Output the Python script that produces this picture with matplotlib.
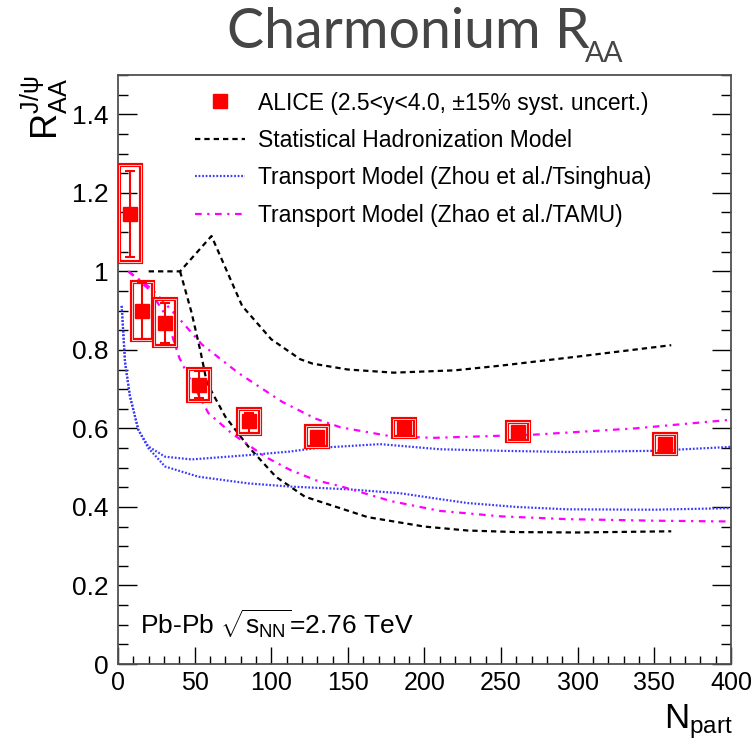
import matplotlib
matplotlib.use("Agg")
import matplotlib.pyplot as plt
from matplotlib.patches import Rectangle
from matplotlib.lines import Line2D

plt.rcParams["font.family"] = ["Liberation Sans", "DejaVu Sans"]
plt.rcParams["mathtext.fontset"] = "custom"
plt.rcParams["mathtext.rm"] = "Liberation Sans"
plt.rcParams["mathtext.it"] = "Liberation Sans"
plt.rcParams["mathtext.bf"] = "Liberation Sans:bold"

# ALICE data points
npart = [7.8, 15.9, 30.7, 52.9, 85.6, 130.0, 186.7, 261.0, 357.0]
raa = [1.147, 0.899, 0.869, 0.711, 0.618, 0.579, 0.601, 0.592, 0.560]
stat_lo = [0.111, 0.072, 0.051, 0.033, 0.029, 0.012, 0.012, 0.012, 0.012]
stat_hi = [0.108, 0.071, 0.050, 0.035, 0.021, 0.012, 0.012, 0.012, 0.012]
syst = [0.124, 0.075, 0.060, 0.041, 0.032, 0.026, 0.022, 0.025, 0.025]
box_half = 7.0

# Statistical hadronization model (two edges)
shm_hi_x = [20, 40.5, 61, 81, 100, 119, 127, 150, 180, 220, 250, 300, 361]
shm_hi_y = [1.0, 1.0, 1.09, 0.912, 0.827, 0.776, 0.765, 0.75, 0.742, 0.748, 0.76, 0.783, 0.812]
shm_lo_x = [40.5, 48, 54, 58, 70, 85, 103, 122, 163, 200, 228, 260, 300, 361]
shm_lo_y = [1.0, 0.895, 0.793, 0.716, 0.63, 0.554, 0.477, 0.426, 0.374, 0.35, 0.34, 0.336, 0.335, 0.338]

# Transport model Zhou et al. / Tsinghua
zhou_hi_x = [2.4, 4.6, 7.8, 13.3, 19.8, 30.7, 48, 85, 112, 129, 171, 210, 250, 293, 350, 400]
zhou_hi_y = [0.912, 0.768, 0.682, 0.596, 0.554, 0.528, 0.521, 0.532, 0.541, 0.55, 0.56, 0.547, 0.543, 0.540, 0.543, 0.553]
zhou_lo_x = [2.4, 4.6, 7.8, 13.3, 19.8, 30.7, 52.5, 85, 112, 150, 184, 210, 228, 260, 293, 350, 400]
zhou_lo_y = [0.912, 0.768, 0.682, 0.596, 0.55, 0.503, 0.477, 0.46, 0.452, 0.445, 0.435, 0.42, 0.41, 0.40, 0.394, 0.393, 0.397]

# Transport model Zhao et al. / TAMU
zhao_hi_x = [6.8, 22, 39.4, 54.7, 78.6, 107, 128.8, 145, 178, 206, 271, 337, 400]
zhao_hi_y = [1.0, 0.955, 0.882, 0.814, 0.741, 0.668, 0.625, 0.603, 0.58, 0.576, 0.584, 0.60, 0.622]
zhao_lo_x = [6.8, 20, 30, 35, 40, 45, 59, 74, 96, 112, 129, 145, 178, 210, 250, 293, 350, 400]
zhao_lo_y = [1.0, 0.955, 0.895, 0.84, 0.78, 0.74, 0.639, 0.588, 0.528, 0.495, 0.468, 0.453, 0.415, 0.39, 0.376, 0.369, 0.365, 0.363]

y_ticks = [0, 0.2, 0.4, 0.6, 0.8, 1.0, 1.2, 1.4]
y_ticklabels = ["0", "0.2", "0.4", "0.6", "0.8", "1", "1.2", "1.4"]
x_ticks = [0, 50, 100, 150, 200, 250, 300, 350, 400]

fig = plt.figure(figsize=(7.55, 7.45), dpi=100)
ax = fig.add_axes([0.1563, 0.1087, 0.9682 - 0.1563, 0.8993 - 0.1087])

shm_style = dict(color="black", lw=1.6, ls=(0, (2.4, 1.8)))
zhou_style = dict(color="#3a3aff", lw=1.6, ls=(0, (0.8, 0.8)))
zhao_style = dict(color="#ff00ff", lw=1.6, ls=(0, (3, 2.5, 1, 2.5)))

ax.plot(shm_hi_x, shm_hi_y, **shm_style)
ax.plot(shm_lo_x, shm_lo_y, **shm_style)
ax.plot(zhou_hi_x, zhou_hi_y, **zhou_style)
ax.plot(zhou_lo_x, zhou_lo_y, **zhou_style)
ax.plot(zhao_hi_x, zhao_hi_y, **zhao_style)
ax.plot(zhao_lo_x, zhao_lo_y, **zhao_style)

# systematic boxes
for x, y, s in zip(npart, raa, syst):
    ax.add_patch(Rectangle((x - box_half, y - s), 2 * box_half, 2 * s,
                           fill=False, edgecolor="red", lw=3, zorder=4))
    ax.add_patch(Rectangle((x - box_half, y - s), 2 * box_half, 2 * s,
                           fill=False, edgecolor="#ffd0d0", lw=0.7, zorder=4))

ax.errorbar(npart, raa, yerr=[stat_lo, stat_hi], fmt="s", color="red",
            ms=10, elinewidth=1.5, capsize=3.5, capthick=1.5, zorder=5)

ax.set_xlim(0, 400)
ax.set_ylim(0, 1.5)
ax.set_xticks(x_ticks)
ax.set_xticks(range(0, 401, 10), minor=True)
ax.set_yticks(y_ticks)
ax.set_yticklabels(y_ticklabels)
ax.set_yticks([i * 0.05 for i in range(31)], minor=True)
ax.tick_params(axis="both", which="both", direction="in")
ax.tick_params(axis="y", which="both", right=True)
ax.tick_params(axis="y", which="major", length=13.7, width=1, pad=7, labelsize=19)
ax.tick_params(axis="y", which="minor", length=7, width=1)
ax.tick_params(axis="x", which="major", length=12, width=1, pad=5, labelsize=18)
ax.tick_params(axis="x", which="minor", length=6, width=1)
for sp in ax.spines.values():
    sp.set_color("#505050")
    sp.set_linewidth(1.3)

handles = [
    Line2D([], [], marker="s", color="red", ls="none", ms=10),
    Line2D([], [], **shm_style),
    Line2D([], [], **zhou_style),
    Line2D([], [], **zhao_style),
]
labels = [
    "ALICE (2.5<y<4.0, \u00b115% syst. uncert.)",
    "Statistical Hadronization Model",
    "Transport Model (Zhou et al./Tsinghua)",
    "Transport Model (Zhao et al./TAMU)",
]
ax.legend(handles, labels, loc="upper left", bbox_to_anchor=(0.1256, 0.972),
          frameon=False, fontsize=16.5, handlelength=2.2, handletextpad=0.57,
          labelspacing=0.63, borderpad=0, borderaxespad=0, numpoints=1)

ax.text(0.036, 0.05, r"Pb-Pb $\mathregular{\sqrt{s_{NN}}}$=2.76 TeV",
        transform=ax.transAxes, fontsize=19, ha="left", va="baseline")

fig.text(44 / 755, 1 - 76 / 745, r"$\mathregular{R_{AA}^{J/\psi}}$",
         rotation=90, fontsize=26, ha="center", va="top")
fig.text(733 / 755, 4 / 745, r"$\mathregular{N_{part}}$",
         fontsize=25, ha="right", va="bottom")

fig.text(590 / 755, 1 - 48 / 745, "Charmonium R", fontsize=40,
         family="Lato", color="#454545", ha="right", va="baseline")
fig.text(585 / 755, 1 - 62 / 745, "AA", fontsize=20.5,
         family="Lato", color="#454545", ha="left", va="baseline")

fig.savefig("out.png", dpi=100)
